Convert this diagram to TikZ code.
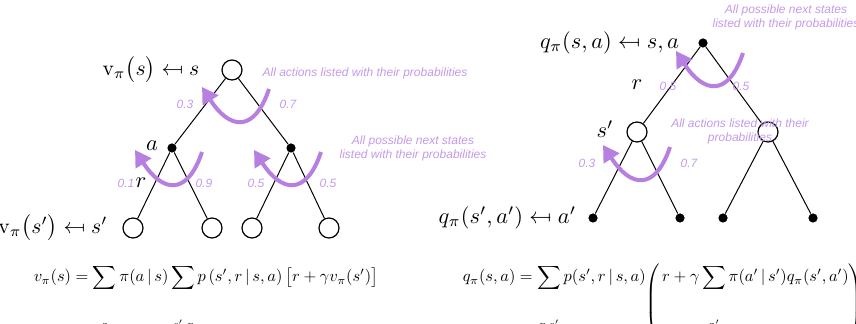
\documentclass[tikz,border=0pt]{standalone}
\usepackage{amsmath, amssymb}
\usepackage{stmaryrd}
\usepackage{fontspec}
\newfontfamily\notefont{Liberation Sans}
\usepackage{tikz}
\usetikzlibrary{arrows.meta}
\definecolor{probarc}{RGB}{183,127,224}
\definecolor{probtext}{RGB}{196,154,234}
\tikzset{
  statenode/.style={circle, draw, fill=white, minimum size=10pt, inner sep=0pt, line width=0.6pt},
  actnode/.style={circle, fill=black, minimum size=4.6pt, inner sep=0pt},
  branch/.style={line width=0.5pt},
  treelabel/.style={scale=1.12},
  vlabel/.style={scale=1.08, anchor=east},
  prob/.style={text=probtext, font=\fontsize{6}{7}\selectfont\notefont\itshape, inner sep=0pt},
  notetext/.style={prob, align=center},
  backup/.style={line width=2pt, draw=probarc, -{Triangle[length=8pt, width=9pt]}},
  bellman/.style={anchor=base west, scale=0.82}
}
\newcommand{\probarc}[1]{\draw[backup] (#1) .. controls +(-15,45) and +(27,42) .. +(-67,-2);}
\newcommand{\lowsub}{\rule{0pt}{21pt}}
\newcommand{\tallparen}[1]{\raisebox{-15.5pt}{$\left#1\vrule height 23.5pt depth 23.5pt width 0pt\right.$}}

\begin{document}
\begin{tikzpicture}[x=0.5pt, y=-0.5pt]
\useasboundingbox (0,0) rectangle (856,324);
\node[statenode] (l0) at (232,70) {};
\node[actnode] (l1) at (172,148) {};
\node[actnode] (l2) at (291,148) {};
\node[statenode] (l11) at (133,228) {};
\node[statenode] (l12) at (212,228) {};
\node[statenode] (l21) at (252,228) {};
\node[statenode] (l22) at (329,228) {};
\draw[branch] (l0) -- (l1);
\draw[branch] (l0) -- (l2);
\draw[branch] (l1) -- (l11);
\draw[branch] (l1) -- (l12);
\draw[branch] (l2) -- (l21);
\draw[branch] (l2) -- (l22);
\node[vlabel] (vs) at (207,70) {$\mathrm{v}_\pi\bigl(s\bigr) \mapsfrom s$};
\node[vlabel] (vsp) at (115,228) {$\mathrm{v}_\pi\bigl(s'\bigr) \mapsfrom s'$};
\node[treelabel] (la) at (152,146) {$a$};
\node[treelabel] (lr) at (141,183) {$r$};
\node[prob] (p03) at (185,104) {0.3};
\node[prob] (p07) at (288,104) {0.7};
\node[prob] (p01) at (126,183) {0.1};
\node[prob] (p09) at (204,183) {0.9};
\node[prob] (p05a) at (256,183) {0.5};
\node[prob] (p05b) at (328,183) {0.5};
\node[prob] (nact) at (365,73) {All actions listed with their probabilities};
\node[notetext] (nnext) at (413,148) {All possible next states\\listed with their probabilities};
\probarc{269,89}
\probarc{202,152}
\probarc{321,152}
\node[actnode] (r0) at (703,43) {};
\node[statenode] (r1) at (637,132) {};
\node[statenode] (r2) at (768,132) {};
\node[actnode] (r11) at (593,218) {};
\node[actnode] (r12) at (680,218) {};
\node[actnode] (r21) at (723,218) {};
\node[actnode] (r22) at (813,218) {};
\draw[branch] (r0) -- (r1);
\draw[branch] (r0) -- (r2);
\draw[branch] (r1) -- (r11);
\draw[branch] (r1) -- (r12);
\draw[branch] (r2) -- (r21);
\draw[branch] (r2) -- (r22);
\node[treelabel, anchor=east] (qsa) at (687,43) {$q_\pi(s,a) \mapsfrom s,a$};
\node[treelabel, anchor=east] (qsap) at (584,218) {$q_\pi(s',a') \mapsfrom a'$};
\node[treelabel] (rr) at (637,85) {$r$};
\node[treelabel] (rs) at (605,129) {$s'$};
\node[prob] (q05a) at (668,86) {0.5};
\node[prob] (q05b) at (741,86) {0.5};
\node[prob] (q03) at (587,163) {0.3};
\node[prob] (q07) at (689,163) {0.7};
\node[notetext] (qnext) at (786,17) {All possible next states\\listed with their probabilities};
\node[notetext] (qact) at (740,131) {All actions listed with their\\probabilities};
\probarc{743,53}
\probarc{670,147}
\node[bellman] (veq) at (28,282) {$\displaystyle v_\pi(s) = \sum_{\lowsub a} \pi(a\,|\,s) \sum_{\lowsub s',r} p\left(s',r\,|\,s,a\right)\bigl[r+\gamma v_\pi(s')\bigr]$};
\node[bellman] (qeq) at (457,282) {$\displaystyle q_\pi(s,a) = \sum_{\lowsub r,s'} p(s',r\,|\,s,a)\tallparen( r+\gamma \sum_{\lowsub a'} \pi(a'\,|\,s')q_\pi(s',a')\tallparen)$};
\end{tikzpicture}
\end{document}
